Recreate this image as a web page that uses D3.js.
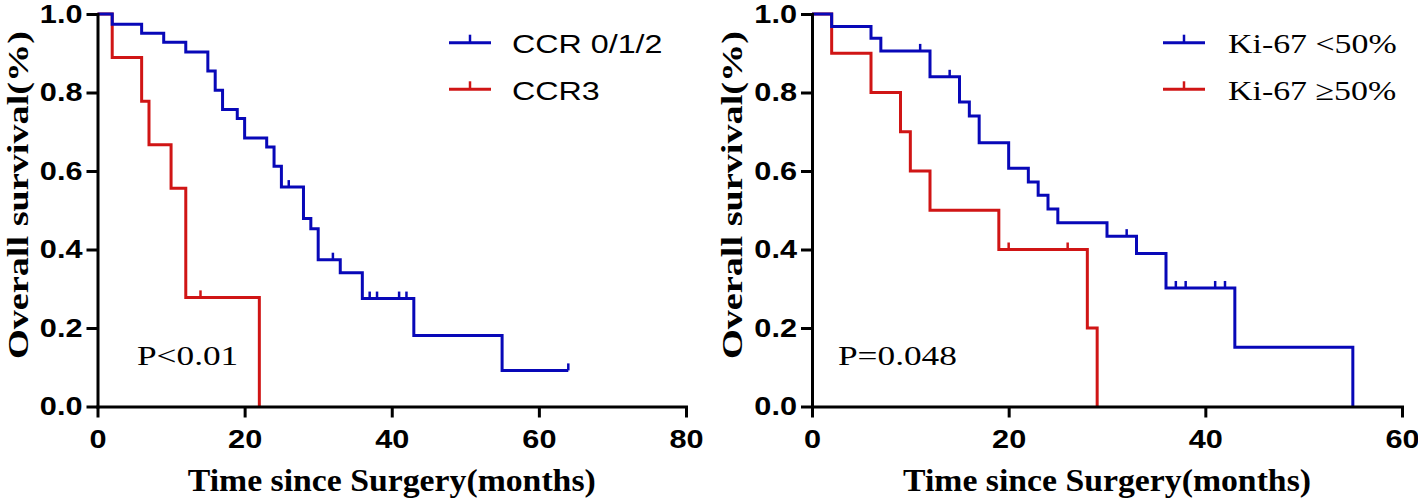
<!DOCTYPE html>
<html><head><meta charset="utf-8">
<script src="https://cdn.jsdelivr.net/npm/d3@7"></script>
<style>body{margin:0;background:#fff}svg{display:block}</style>
</head><body><svg id="c" width="1418" height="501"></svg>
<script>
// ---------- data ----------
const yTicks = [0, 0.2, 0.4, 0.6, 0.8, 1.0];
const leftXTicks = [0, 20, 40, 60, 80];
const rightXTicks = [0, 20, 40, 60];
const leftLabels = ["CCR 0/1/2", "CCR3"];
const rightLabels = ["Ki-67 <50%", "Ki-67 \u226550%"];
const leftPText = "P<0.01";
const rightPText = "P=0.048";
const yTitle = "Overall survival(%)";
const xTitle = "Time since Surgery(months)";

// CCR 0/1/2
const ccr012Times = [0, 2, 6, 9, 12, 15, 16, 17, 19, 20, 23, 24, 25, 28, 29, 30, 33, 36, 43, 55];
const ccr012Surv  = [1, 0.974, 0.951, 0.928, 0.903, 0.855, 0.806, 0.757, 0.734, 0.684, 0.661, 0.612, 0.559, 0.479, 0.453, 0.374, 0.341, 0.275, 0.181, 0.092];
const ccr012Censor = [26, 32, 37, 38, 41, 42, 64];
const ccr012End = 64;
// CCR3
const ccr3Times = [0, 2, 6, 7, 10, 12, 22];
const ccr3Surv  = [1, 0.889, 0.778, 0.667, 0.556, 0.278, 0];
const ccr3Censor = [14];
const ccr3End = 22;
// Ki-67 <50%
const kiLowTimes = [0, 2, 6, 7, 12, 15, 16, 17, 20, 22, 23, 24, 25, 30, 33, 36, 43, 55];
const kiLowSurv  = [1, 0.968, 0.938, 0.906, 0.840, 0.776, 0.740, 0.672, 0.607, 0.572, 0.538, 0.503, 0.468, 0.434, 0.390, 0.302, 0.151, 0];
const kiLowCensor = [11, 14, 32, 37, 38, 41, 42];
const kiLowEnd = 55;
// Ki-67 >=50%
const kiHighTimes = [0, 2, 6, 9, 10, 12, 19, 28, 29];
const kiHighSurv  = [1, 0.9, 0.8, 0.7, 0.6, 0.5, 0.4, 0.2, 0];
const kiHighCensor = [20, 26];
const kiHighEnd = 29;

// ---------- drawing ----------
const BLUE = "#0808b8", RED = "#d01515";
const SANS = "'Liberation Sans', Arial, sans-serif";
const SERIF = "'Liberation Serif', 'Times New Roman', serif";
const svg = d3.select("#c");

function stretch(sel, f) {
  sel.each(function () {
    const w = this.getComputedTextLength();
    this.setAttribute("textLength", w * f);
    this.setAttribute("lengthAdjust", "spacingAndGlyphs");
  });
}

function panel(p) {
  const x = d3.scaleLinear().domain([0, p.xMax]).range([p.x0, p.x1]);
  const y = d3.scaleLinear().domain([0, 1]).range([406.5, 14]);
  const g = svg.append("g");

  // curves (red first, blue on top)
  p.series.slice().reverse().forEach(s => {
    const pts = s.times.map((t, i) => [t, s.surv[i]]);
    pts.push([s.end, s.surv[s.surv.length - 1]]);
    g.append("path")
      .attr("d", d3.line().x(d => x(d[0])).y(d => y(d[1])).curve(d3.curveStepAfter)(pts))
      .attr("fill", "none").attr("stroke", s.color).attr("stroke-width", 3);
    g.selectAll(null).data(s.censor).enter().append("line")
      .attr("x1", c => x(c)).attr("x2", c => x(c))
      .attr("y1", c => y(s.surv[d3.bisectRight(s.times, c) - 1]))
      .attr("y2", c => y(s.surv[d3.bisectRight(s.times, c) - 1]) - 7)
      .attr("stroke", s.color).attr("stroke-width", 2.5);
  });

  // axes
  const ax = g.append("g").attr("transform", `translate(0,${y(0)})`)
    .call(d3.axisBottom(x).tickValues(p.xTicks).tickSize(11).tickSizeOuter(0).tickPadding(12));
  const ay = g.append("g").attr("transform", `translate(${x(0)},0)`)
    .call(d3.axisLeft(y).tickValues(yTicks).tickFormat(d3.format(".1f")).tickSize(11).tickSizeOuter(0).tickPadding(4));
  [ax, ay].forEach(a => {
    a.select(".domain").attr("stroke", "#000").attr("stroke-width", 3).attr("stroke-linecap", "square");
    a.selectAll(".tick line").attr("stroke", "#000").attr("stroke-width", 3);
    a.selectAll(".tick text").attr("fill", "#000").attr("font-family", SANS)
      .attr("font-weight", "bold").attr("font-size", 26);
    stretch(a.selectAll(".tick text"), 1.18);
  });

  // axis titles
  g.append("text").attr("x", (p.x0 + p.x1) / 2).attr("y", 491).attr("text-anchor", "middle")
    .attr("font-family", SERIF).attr("font-weight", "bold").attr("font-size", 32)
    .attr("textLength", 408).attr("lengthAdjust", "spacingAndGlyphs").text(xTitle);
  g.append("text").attr("transform", `translate(${p.x0 - 70},195) rotate(-90)`).attr("text-anchor", "middle")
    .attr("font-family", SERIF).attr("font-weight", "bold").attr("font-size", 30)
    .attr("textLength", 328).attr("lengthAdjust", "spacingAndGlyphs").text(yTitle);

  // P value
  const pt = g.append("text").attr("x", p.px).attr("y", 365)
    .attr("font-family", SERIF).attr("font-size", 28).text(p.pText);
  stretch(pt, 1.26);

  // legend
  const ly = [42.7, 89.3];
  p.series.forEach((s, i) => {
    g.append("line").attr("x1", p.lx).attr("x2", p.lx + 42).attr("y1", ly[i]).attr("y2", ly[i])
      .attr("stroke", s.color).attr("stroke-width", 3);
    g.append("line").attr("x1", p.lx + 21).attr("x2", p.lx + 21).attr("y1", ly[i]).attr("y2", ly[i] - 8)
      .attr("stroke", s.color).attr("stroke-width", 2.5);
    const t = g.append("text").attr("x", p.lx + p.ltx).attr("y", ly[i] + 10.6)
      .attr("font-family", p.legendFont).attr("font-size", p.legendSize).attr("fill", "#000").text(p.labels[i]);
    stretch(t, p.legendStretch);
  });
}

panel({
  xMax: 80, x0: 97.5, x1: 686, xTicks: leftXTicks, px: 137, pText: leftPText,
  lx: 449, ltx: 63, labels: leftLabels, legendFont: SANS, legendSize: 26, legendStretch: 1.24,
  series: [
    { times: ccr012Times, surv: ccr012Surv, censor: ccr012Censor, end: ccr012End, color: BLUE },
    { times: ccr3Times, surv: ccr3Surv, censor: ccr3Censor, end: ccr3End, color: RED }
  ]
});
panel({
  xMax: 60, x0: 812, x1: 1402, xTicks: rightXTicks, px: 838, pText: rightPText,
  lx: 1163, ltx: 65, labels: rightLabels, legendFont: SERIF, legendSize: 28, legendStretch: 1.21,
  series: [
    { times: kiLowTimes, surv: kiLowSurv, censor: kiLowCensor, end: kiLowEnd, color: BLUE },
    { times: kiHighTimes, surv: kiHighSurv, censor: kiHighCensor, end: kiHighEnd, color: RED }
  ]
});
</script>
</body></html>
